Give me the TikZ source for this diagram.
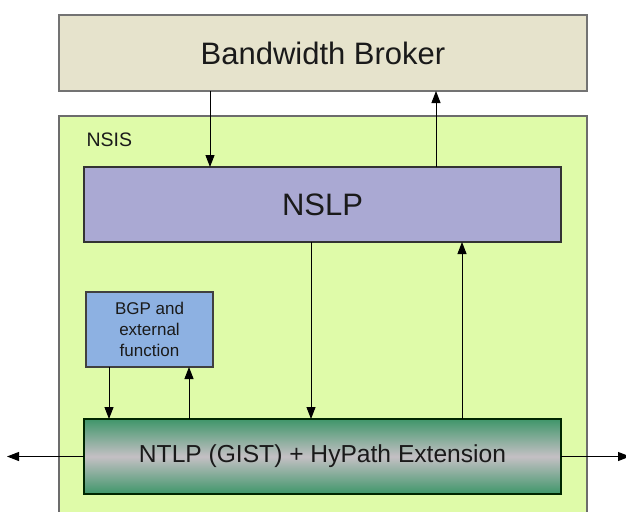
\documentclass[tikz,border=0pt]{standalone}
\usepackage{fontspec}
\setmainfont{Liberation Sans}
\usetikzlibrary{arrows.meta}
\definecolor{bbfill}{HTML}{E6E3CC}
\definecolor{nsisfill}{HTML}{DFFBA9}
\definecolor{nslpfill}{HTML}{AAA9D3}
\definecolor{bgpfill}{HTML}{8DB1E2}
\definecolor{ntlpgreen}{HTML}{3F966A}
\definecolor{ntlpgrey}{HTML}{C4C0C4}
\definecolor{txt}{HTML}{1A1A1A}
\begin{document}
\begin{tikzpicture}[x=1pt,y=-1pt,
  box/.style={rectangle, anchor=north west, inner sep=0pt, outer sep=0pt, text=txt, align=center},
  arr/.style={draw=black, line width=1pt, -{Triangle[length=12pt,width=9pt]}}]
\useasboundingbox (0,0) rectangle (626,511);
% NSIS area
\fill[nsisfill] (59,116) rectangle (587,530);
\draw[draw=gray!85!black, line width=1.3pt] (59,530) -- (59,116) -- (587,116) -- (587,530);
\node[text=txt, font=\fontsize{19.5}{23}\selectfont, anchor=west] (nsis) at (83,140) {NSIS};
% boxes
\node[box, fill=bbfill, draw=gray!90!black, line width=1.3pt, minimum width=528pt, minimum height=76pt,
  font=\fontsize{31}{37}\selectfont] (bb) at (59,15) {Bandwidth Broker};
\node[box, fill=nslpfill, draw=black!80, line width=1.2pt, minimum width=477pt, minimum height=75pt,
  font=\fontsize{31}{37}\selectfont] (nslp) at (84,167) {NSLP};
\node[box, fill=bgpfill, draw=black!75, line width=1.2pt, minimum width=127pt, minimum height=75pt,
  font=\fontsize{17}{21.3}\selectfont] (bgp) at (86,292) {BGP and\\external\\function};
\node[box, top color=ntlpgreen, bottom color=ntlpgreen, middle color=ntlpgrey, draw=black!85!green, line width=1.2pt,
  minimum width=477pt, minimum height=75pt,
  font=\fontsize{24.6}{30}\selectfont] (ntlp) at (84,419) {NTLP (GIST) + HyPath Extension};
% helper x positions
\coordinate (xa) at (210,0);
\coordinate (xb) at (436,0);
\coordinate (xc) at (311,0);
\coordinate (xd) at (462,0);
\coordinate (xe) at (109,0);
\coordinate (xf) at (189,0);
\coordinate (lend) at (7,456.5);
\coordinate (rend) at (630,456.5);
% arrows
\draw[arr] (bb.south -| xa) -- (nslp.north -| xa);
\draw[arr] (nslp.north -| xb) -- (bb.south -| xb);
\draw[arr] (nslp.south -| xc) -- (ntlp.north -| xc);
\draw[arr] (ntlp.north -| xd) -- (nslp.south -| xd);
\draw[arr] (bgp.south -| xe) -- (ntlp.north -| xe);
\draw[arr] (ntlp.north -| xf) -- (bgp.south -| xf);
\draw[arr] (ntlp.west) -- (lend);
\draw[arr] (ntlp.east) -- (rend);
\end{tikzpicture}
\end{document}
